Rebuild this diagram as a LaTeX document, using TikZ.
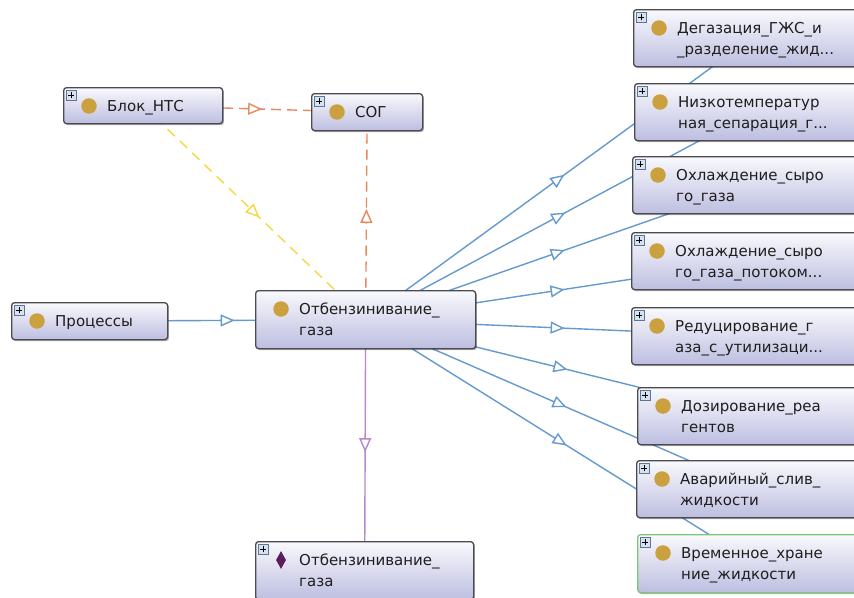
\documentclass[tikz,border=0pt]{standalone}
\usepackage{fontspec}
\setmainfont{DejaVu Sans}
\usetikzlibrary{arrows.meta,decorations.markings,backgrounds,shadows,shapes.geometric}

\definecolor{boxtop}{RGB}{249,249,253}
\definecolor{boxbot}{RGB}{189,190,224}
\definecolor{boxline}{RGB}{74,74,80}
\definecolor{classgold}{RGB}{203,160,62}
\definecolor{indplum}{RGB}{92,28,92}
\definecolor{linkblue}{RGB}{100,154,206}
\definecolor{linkorange}{RGB}{232,136,92}
\definecolor{linkyellow}{RGB}{246,216,64}
\definecolor{linkpurple}{RGB}{184,134,204}
\definecolor{pickgreen}{RGB}{122,200,122}
\definecolor{plusfill}{RGB}{214,226,240}
\definecolor{plusline}{RGB}{92,118,148}
\definecolor{labelink}{RGB}{30,30,30}

\pgfdeclarelayer{canvas}
\pgfsetlayers{canvas,background,main}

\tikzset{
  x=1pt, y=-1pt,
  entity/.style={draw=boxline, line width=1.3pt, rounded corners=3pt,
    top color=boxtop, bottom color=boxbot, anchor=north west, inner sep=0pt,
    drop shadow={shadow xshift=1.3pt, shadow yshift=-1.5pt, opacity=0.3, fill=black}},
  plain/.style={},
  picked/.style={draw=pickgreen},
  classdot/.style={circle, fill=classgold, minimum size=15.5pt, inner sep=0pt},
  inddiamond/.style={diamond, fill=indplum, minimum width=10pt, minimum height=18pt, inner sep=0pt},
  caption/.style={anchor=north west, inner sep=0pt, align=left, text=labelink,
    font=\fontsize{15}{21}\selectfont},
  expander/.style={draw=plusline, fill=plusfill, line width=0.6pt, minimum size=10pt,
    inner sep=0pt, anchor=north west,
    path picture={\draw[black, line width=1.1pt]
      ([xshift=2pt]path picture bounding box.west) -- ([xshift=-2pt]path picture bounding box.east)
      ([yshift=2pt]path picture bounding box.south) -- ([yshift=-2pt]path picture bounding box.north);}},
  relation/.style={draw=#1, line width=1.4pt, postaction={decorate},
    decoration={markings, mark=at position 0.5 with
      {\arrow[solid, xshift=7pt]{Triangle[length=14pt, width=12pt, fill=white]}}}},
  dashlink/.style={dash pattern=on 10pt off 6pt},
}

% box, icon and caption of one ontology entity
% #1 box style, #2 icon style, #3 name, #4 left, #5 top, #6 width, #7 height, #8 text
\newcommand\entitybox[8]{%
  \node[entity, #1, minimum width=#6, minimum height=#7] (#3) at (#4,#5) {};
  \node[#2] (#3-icon) at ({#4+26},{#5+19}) {};
  \node[caption] (#3-text) at ({#4+44},{#5+12}) {\rule{0pt}{12pt}#8};
}
% small expand button in the upper left corner of a box
\newcommand\expandbutton[3]{%
  \node[expander] (#1-plus) at ({#2+3},{#3+3}) {};
}

\begin{document}
\begin{tikzpicture}
\path[use as bounding box] (0,0) rectangle (854,597);
\begin{pgfonlayer}{canvas}
  \fill[white] (0,0) rectangle (854,597);
\end{pgfonlayer}
\clip (0,0) rectangle (854,597);

% left and centre entities
\entitybox{plain}{classdot}{ntc}{63}{87}{159}{36}{Блок\_НТС}
\expandbutton{ntc}{63}{87}
\entitybox{plain}{classdot}{sog}{311}{93}{111}{37}{СОГ}
\expandbutton{sog}{311}{93}
\entitybox{plain}{classdot}{proc}{11}{302}{156}{37}{Процессы}
\expandbutton{proc}{11}{302}
\entitybox{plain}{classdot}{gas}{255}{290}{220}{58}{Отбензинивание\_\\газа}
\entitybox{plain}{inddiamond}{gasind}{255}{541}{218}{58}{Отбензинивание\_\\газа}
\expandbutton{gasind}{255}{541}

% subclasses on the right
\entitybox{plain}{classdot}{degas}{633}{9}{236}{57}{Дегазация\_ГЖС\_и\\\_разделение\_жид...}
\expandbutton{degas}{633}{9}
\entitybox{plain}{classdot}{lowtemp}{634}{83}{236}{57}{Низкотемператур\\ная\_сепарация\_г...}
\expandbutton{lowtemp}{634}{83}
\entitybox{plain}{classdot}{cool}{632}{156}{236}{57}{Охлаждение\_сыро\\го\_газа}
\expandbutton{cool}{632}{156}
\entitybox{plain}{classdot}{coolflow}{631}{232}{236}{57}{Охлаждение\_сыро\\го\_газа\_потоком...}
\expandbutton{coolflow}{631}{232}
\entitybox{plain}{classdot}{reduce}{631}{307}{236}{57}{Редуцирование\_г\\аза\_с\_утилизаци...}
\expandbutton{reduce}{631}{307}
\entitybox{plain}{classdot}{dosing}{637}{387}{236}{57}{Дозирование\_реа\\гентов}
\expandbutton{dosing}{637}{387}
\entitybox{plain}{classdot}{drain}{636}{460}{236}{57}{Аварийный\_слив\_\\жидкости}
\expandbutton{drain}{636}{460}
\entitybox{picked}{classdot}{storage}{637}{534}{236}{58}{Временное\_хране\\ние\_жидкости}
\expandbutton{storage}{637}{534}

% relations, drawn centre to centre beneath the boxes
\begin{scope}[on background layer]
  \draw[relation=linkblue] (proc.center) -- (gas.center);
  \foreach \target in {degas,lowtemp,cool,coolflow,reduce,dosing,drain,storage}
    \draw[relation=linkblue] (gas.center) -- (\target.center);
  \draw[relation=linkorange, dashlink] (ntc.center) -- (sog.center);
  \draw[relation=linkorange, dashlink] (gas.center) -- (sog.center);
  \draw[relation=linkyellow, dash pattern=on 10pt off 7pt] (ntc.center) -- (gas.center);
  \draw[relation=linkpurple] (gas.center) -- (gasind.center);
\end{scope}
\end{tikzpicture}
\end{document}
